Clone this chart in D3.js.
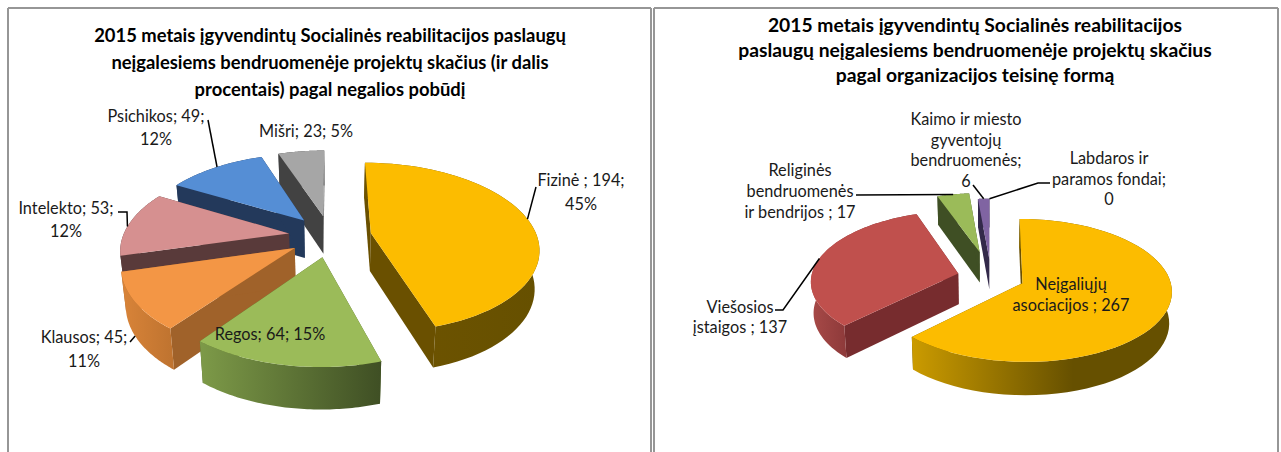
<!DOCTYPE html>
<html>
<head>
<meta charset="utf-8">
<script src="https://cdn.jsdelivr.net/npm/d3@7"></script>
<style>
  html, body { margin: 0; padding: 0; background: #fff; }
  svg { display: block; }
  text { font-family: Lato, "Open Sans", sans-serif; fill: #1a1a1a; }
  .title { font-weight: 700; fill: #000; }
  .label { font-size: 16.3px; }
</style>
</head>
<body>
<div id="chart"></div>
<script>
// left chart data
const leftNames = ['Fizinė', 'Regos', 'Klausos', 'Intelekto', 'Psichikos', 'Mišri'];
const leftValues = [194, 64, 45, 53, 49, 23];
const leftPercents = [45, 15, 11, 12, 12, 5];

// right chart data
const rightNames = ['Neįgaliųjų asociacijos', 'Viešosios įstaigos', 'Religinės bendruomenės ir bendrijos', 'Kaimo ir miesto gyventojų bendruomenės', 'Labdaros ir paramos fondai'];
const rightValues = [267, 137, 17, 6, 0];

// titles
const leftTitle = [
  '2015 metais įgyvendintų Socialinės reabilitacijos paslaugų',
  'neįgalesiems bendruomenėje projektų skačius (ir dalis',
  'procentais) pagal negalios pobūdį'
];
const rightTitle = [
  '2015 metais įgyvendintų Socialinės reabilitacijos',
  'paslaugų neįgalesiems bendruomenėje projektų skačius',
  'pagal organizacijos teisinę formą'
];

// slice styles: top, side wall, rim gradient start, rim gradient end
const leftStyles = [
  ['#fcbc00', '#6a5000', '#6f5400', '#665000'],
  ['#9bbb59', '#4f6228', '#7d9a48', '#3f4f24'],
  ['#f39645', '#a0622a', '#d98439', '#c07430'],
  ['#d69090', '#593a3a', '#593a3a', '#593a3a'],
  ['#558ed5', '#23395b', '#23395b', '#23395b'],
  ['#a6a6a6', '#424242', '#424242', '#424242']
];
const rightStyles = [
  ['#fcbc00', '#6a5000', '#cb9b00', '#665000'],
  ['#c0504d', '#772c2e', '#a84a48', '#772c2e'],
  ['#9bbb59', '#3f4f24', '#3f4f24', '#3f4f24'],
  ['#8064a2', '#33294a', '#33294a', '#33294a'],
  ['#4bacc6', '#205867', '#205867', '#205867']
];

const width = 1281;
const height = 452;

const svg = d3.select('#chart').append('svg').attr('width', width).attr('height', height);
const defs = svg.append('defs');

// panel borders
[[8, 8, 8, height], [8, 8, 651, 8], [651, 8, 651, height], [654, 8, 654, height], [654, 8, 1278, 8], [1278, 8, 1278, height]].forEach(function (l) {
  svg.append('line')
    .attr('x1', l[0]).attr('y1', l[1]).attr('x2', l[2]).attr('y2', l[3])
    .attr('stroke', '#969696').attr('stroke-width', 2);
});

function drawTitle(lines, x, ys, size) {
  svg.selectAll(null).data(lines).enter().append('text')
    .attr('class', 'title')
    .attr('x', x)
    .attr('y', function (d, i) { return ys[i]; })
    .attr('text-anchor', 'middle')
    .attr('dominant-baseline', 'central')
    .style('font-size', size + 'px')
    .text(function (d) { return d; });
}

function drawLabel(lines, x, ys) {
  svg.selectAll(null).data(lines).enter().append('text')
    .attr('class', 'label')
    .attr('x', x)
    .attr('y', function (d, i) { return ys[i]; })
    .attr('text-anchor', 'middle')
    .attr('dominant-baseline', 'central')
    .text(function (d) { return d; });
}

// Draws a tilted, exploded pie. Returns a function that gives rim points for leader lines
function drawPie(id, values, styles, opt) {
  const arcs = d3.pie().sort(null).value(function (d) { return d; })(values);
  const g = svg.append('g');
  const line = d3.line();

  function project(angle, mid, explode) {
    const u = Math.sin(angle) + explode * Math.sin(mid);
    const v = -Math.cos(angle) + explode * -Math.cos(mid);
    const w = 1 - opt.persp * v;
    return [opt.cx + opt.rx * u / w, opt.cy + opt.ry * v / w];
  }
  function apex(mid, explode) {
    const u = explode * Math.sin(mid);
    const v = -explode * Math.cos(mid);
    const w = 1 - opt.persp * v;
    return [opt.cx + opt.rx * u / w, opt.cy + opt.ry * v / w];
  }
  // the bottom of the solid sits a bit lower near the viewer and narrows a little
  function down(p) {
    return [
      opt.cx + (p[0] - opt.cx) * opt.narrow,
      p[1] + opt.depth * (1 + 0.0009 * (p[1] - opt.cy))
    ];
  }

  // back slices first so the front ones cover them
  arcs.slice().reverse().forEach(function (a) {
    if (a.value === 0) return;
    const i = a.index;
    const mid = (a.startAngle + a.endAngle) / 2;
    const ex = opt.explode[i];
    const rim = d3.range(0, 61).map(function (k) {
      return project(a.startAngle + (a.endAngle - a.startAngle) * k / 60, mid, ex);
    });
    const c = apex(mid, ex);
    const style = styles[i];

    const gradId = id + '-rim-' + i;
    const grad = defs.append('linearGradient')
      .attr('id', gradId)
      .attr('gradientUnits', 'userSpaceOnUse')
      .attr('x1', d3.min(rim, function (p) { return p[0]; }))
      .attr('x2', d3.max(rim, function (p) { return p[0]; }))
      .attr('y1', 0).attr('y2', 0);
    grad.append('stop').attr('offset', 0).attr('stop-color', style[2]);
    grad.append('stop').attr('offset', opt.gradStop || 1).attr('stop-color', style[3]);

    // radial walls first, the rim wall after, the top last
    const first = rim[0];
    const last = rim[rim.length - 1];
    [first, last].forEach(function (p) {
      g.append('path')
        .attr('d', line([p, c, down(c), down(p)]) + 'Z')
        .attr('fill', style[1]);
    });
    g.append('path')
      .attr('d', line(rim.concat(rim.map(down).reverse())) + 'Z')
      .attr('fill', 'url(#' + gradId + ')');
    g.append('path')
      .attr('d', line([c].concat(rim)) + 'Z')
      .attr('fill', style[0]);
  });

  return function (i, f, onWall) {
    const a = arcs[i];
    const p = project(a.startAngle + (a.endAngle - a.startAngle) * f, (a.startAngle + a.endAngle) / 2, opt.explode[i]);
    return onWall ? down(p) : p;
  };
}

function drawLeader(start, points) {
  svg.append('path')
    .attr('d', d3.line()([start].concat(points)))
    .attr('fill', 'none')
    .attr('stroke', '#000')
    .attr('stroke-width', 1.5);
}

drawTitle(leftTitle, 330, [35, 62, 89], 18.4);
drawTitle(rightTitle, 975, [24, 49, 74], 19.3);

const leftRim = drawPie('left', leftValues, leftStyles, {
  cx: 330, cy: 236, rx: 166, ry: 83, persp: 0.169, depth: 38, narrow: 0.977,
  explode: [0.25, 0.25, 0.25, 0.25, 0.25, 0.25]
});
const rightRim = drawPie('right', rightValues, rightStyles, {
  cx: 991, cy: 277, rx: 147, ry: 69.5, persp: 0.1, depth: 31, narrow: 0.985,
  explode: [0.23, 0.23, 0.38, 0.27, 0], gradStop: 0.62
});

// leader lines start on the slices
drawLeader(leftRim(0, 0.49), [[536, 187]]);
drawLeader(leftRim(4, 0.52), [[208, 120]]);
drawLeader(leftRim(3, 0.45), [[127, 212], [118, 212]]);
drawLeader(leftRim(2, 0.6, true), [[130, 342]]);
drawLeader(rightRim(1, 0.5), [[783, 310], [775, 310]]);
drawLeader(rightRim(2, 0.5), [[856, 195]]);
drawLeader(rightRim(3, 0.5), [[973, 185]]);
drawLeader(rightRim(3, 1), [[1038, 183], [1050, 183]]);

// left labels
drawLabel([leftNames[0] + ' ; ' + leftValues[0] + ';', leftPercents[0] + '%'], 581, [179, 203]);
drawLabel([leftNames[5] + '; ' + leftValues[5] + '; ' + leftPercents[5] + '%'], 306, [130]);
drawLabel([leftNames[4] + '; ' + leftValues[4] + ';', leftPercents[4] + '%'], 156, [115, 138]);
drawLabel([leftNames[3] + '; ' + leftValues[3] + ';', leftPercents[3] + '%'], 66, [207, 230]);
drawLabel([leftNames[2] + '; ' + leftValues[2] + ';', leftPercents[2] + '%'], 84, [336, 360]);
drawLabel([leftNames[1] + '; ' + leftValues[1] + '; ' + leftPercents[1] + '%'], 270, [333]);

// right labels
drawLabel(['Neįgaliųjų', 'asociacijos ; ' + rightValues[0]], 1071, [283, 304]);
drawLabel(['Viešosios', 'įstaigos ; ' + rightValues[1]], 740, [306, 326]);
drawLabel(['Religinės', 'bendruomenės', 'ir bendrijos ; ' + rightValues[2]], 800, [169, 190, 211]);
drawLabel(['Kaimo ir miesto', 'gyventojų', 'bendruomenės;', String(rightValues[3])], 966, [118, 139, 159, 180]);
drawLabel(['Labdaros ir', 'paramos fondai;', String(rightValues[4])], 1109, [157, 178, 198]);
</script>
</body>
</html>
